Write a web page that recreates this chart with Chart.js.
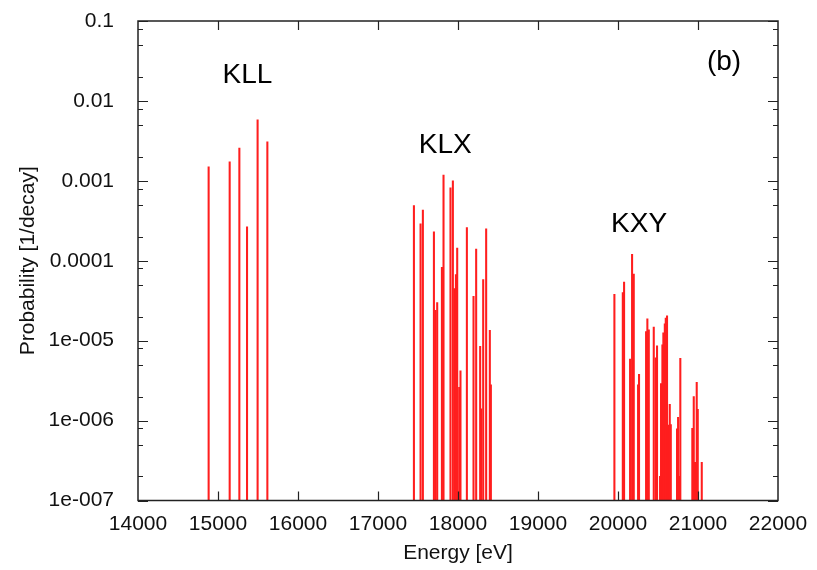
<!DOCTYPE html>
<html>
<head>
<meta charset="utf-8">
<script src="https://cdn.jsdelivr.net/npm/chart.js@4"></script>
<style>
  body { margin: 0; background: #fff; }
</style>
</head>
<body>
<canvas id="augerChart" width="817" height="570"></canvas>
<script>
// KLL, KLX, KXY Auger lines: energy [eV] and probability [1/decay]
const energyKLL = [14883, 15146, 15267, 15363, 15495, 15617];
const probKLL = [1.5e-3, 1.73e-3, 2.57e-3, 2.66e-4, 5.8e-3, 3.07e-3];

const energyKLX = [17449, 17532, 17561, 17699, 17719, 17740, 17799, 17819, 17906, 17936, 17956, 17974,
  17990, 18015, 18031, 18111, 18194, 18227, 18277, 18290, 18315, 18352, 18398, 18411];
const probKLX = [4.9e-4, 2.9e-4, 4.3e-4, 2.3e-4, 2.4e-5, 3.0e-5, 8.3e-5, 1.18e-3, 8.2e-4, 1.0e-3, 4.5e-5, 6.7e-5,
  1.44e-4, 2.6e-6, 4.2e-6, 2.6e-4, 3.6e-5, 1.4e-4, 8.5e-6, 1.4e-6, 5.8e-5, 2.5e-4, 1.35e-5, 2.8e-6];

const energyKXY = [19955, 20060, 20076, 20151, 20176, 20197, 20251, 20263, 20351, 20367, 20385, 20447,
  20472, 20488, 20526, 20538, 20555, 20567, 20585, 20597, 20613, 20626, 20647, 20660,
  20738, 20751, 20767, 20779, 20929, 20947, 20963, 20984, 20997, 21047];
const probKXY = [3.8e-5, 4.0e-5, 5.4e-5, 5.9e-6, 1.2e-4, 6.8e-5, 2.8e-6, 3.8e-6, 1.3e-5, 1.87e-5, 1.37e-5, 1.48e-5,
  6.1e-6, 8.6e-6, 2.0e-7, 2.9e-6, 8.9e-6, 1.25e-5, 1.62e-5, 1.92e-5, 2.04e-5, 8.8e-7, 1.6e-6, 8.9e-7,
  7.9e-7, 1.1e-6, 2.0e-7, 6.0e-6, 8.0e-7, 2.0e-6, 3.0e-7, 3.0e-6, 1.38e-6, 3.0e-7];

const yMin = 1e-7;
const yMax = 0.1;
const yTickValues = [0.1, 0.01, 0.001, 0.0001, 1e-5, 1e-6, 1e-7];
const yTickLabels = ['0.1', '0.01', '0.001', '0.0001', '1e-005', '1e-006', '1e-007'];
const yMinorMantissa = [2, 5, 8];
const xMin = 14000;
const xMax = 22000;
const xStep = 1000;

// group labels placed in data coordinates
const groupNames = ['KLL', 'KLX', 'KXY', '(b)'];
const groupLabelX = [15367, 17840, 20264, 21325];
const groupLabelY = [0.0211, 0.00282, 2.9e-4, 0.0307];

function sticks(es, ps) {
  return es.map((e, i) => ({ x: e, y: [yMin, ps[i]] }));
}

const allLines = sticks(energyKLL, probKLL)
  .concat(sticks(energyKLX, probKLX))
  .concat(sticks(energyKXY, probKXY));

const fontFamily = '"Liberation Sans", Arial, sans-serif';

const frameTicks = {
  id: 'frameTicks',
  afterDatasetsDraw(chart) {
    const { ctx, chartArea: a, scales: { x, y } } = chart;
    ctx.save();
    ctx.strokeStyle = '#222';
    ctx.lineWidth = 1.2;
    ctx.beginPath();
    // y major + minor ticks, inward on both sides
    yTickValues.forEach(v => {
      const py = Math.round(y.getPixelForValue(v)) + 0.5;
      ctx.moveTo(a.left, py); ctx.lineTo(a.left + 10, py);
      ctx.moveTo(a.right, py); ctx.lineTo(a.right - 10, py);
    });
    for (let e = -7; e < -1; e++) {
      yMinorMantissa.forEach(m => {
        const v = m * Math.pow(10, e);
        if (v <= yMin || v >= yMax) return;
        const py = Math.round(y.getPixelForValue(v)) + 0.5;
        ctx.moveTo(a.left, py); ctx.lineTo(a.left + 5, py);
        ctx.moveTo(a.right, py); ctx.lineTo(a.right - 5, py);
      });
    }
    // x ticks, inward top and bottom
    for (let v = xMin + xStep; v < xMax; v += xStep) {
      const px = Math.round(x.getPixelForValue(v)) + 0.5;
      ctx.moveTo(px, a.bottom); ctx.lineTo(px, a.bottom - 9);
      ctx.moveTo(px, a.top); ctx.lineTo(px, a.top + 9);
    }
    ctx.stroke();
    ctx.lineWidth = 1.5;
    ctx.strokeRect(a.left, a.top, a.right - a.left, a.bottom - a.top);

    ctx.fillStyle = '#000';
    ctx.font = '28px ' + fontFamily;
    ctx.textAlign = 'center';
    ctx.textBaseline = 'middle';
    groupNames.forEach((t, i) => {
      ctx.fillText(t, x.getPixelForValue(groupLabelX[i]), y.getPixelForValue(groupLabelY[i]));
    });
    ctx.restore();
  }
};

new Chart(document.getElementById('augerChart'), {
  type: 'bar',
  data: {
    datasets: [{
      data: allLines,
      backgroundColor: 'rgb(255, 30, 30)',
      borderWidth: 0,
      barThickness: 1.4,
      grouped: false
    }]
  },
  options: {
    responsive: false,
    animation: false,
    layout: { padding: { left: 12, top: 21, right: 39, bottom: 0 } },
    plugins: {
      legend: { display: false },
      tooltip: { enabled: false }
    },
    scales: {
      x: {
        type: 'linear',
        min: xMin,
        max: xMax,
        offset: false,
        grid: { display: false },
        border: { display: false },
        ticks: {
          stepSize: xStep,
          padding: 3,
          color: '#111',
          font: { family: fontFamily, size: 21 },
          maxRotation: 0,
          callback: v => String(v)
        },
        title: {
          display: true,
          text: 'Energy [eV]',
          color: '#111',
          font: { family: fontFamily, size: 21 },
          padding: { top: 2 }
        },
        afterFit: s => { s.height = 69.5; s.paddingLeft = 0; s.paddingRight = 0; }
      },
      y: {
        type: 'logarithmic',
        min: yMin,
        max: yMax,
        grid: { display: false },
        border: { display: false },
        afterBuildTicks: s => { s.ticks = yTickValues.map(v => ({ value: v })); },
        ticks: {
          padding: 16,
          color: '#111',
          font: { family: fontFamily, size: 21 },
          callback: v => {
            const i = yTickValues.findIndex(t => Math.abs(t - v) / t < 1e-6);
            return i >= 0 ? yTickLabels[i] : '';
          }
        },
        title: {
          display: true,
          text: 'Probability [1/decay]',
          color: '#111',
          font: { family: fontFamily, size: 21 },
          padding: { bottom: 6 }
        },
        afterFit: s => { s.width = 126; s.paddingTop = 0; s.paddingBottom = 0; }
      }
    }
  },
  plugins: [frameTicks]
});
</script>
</body>
</html>
